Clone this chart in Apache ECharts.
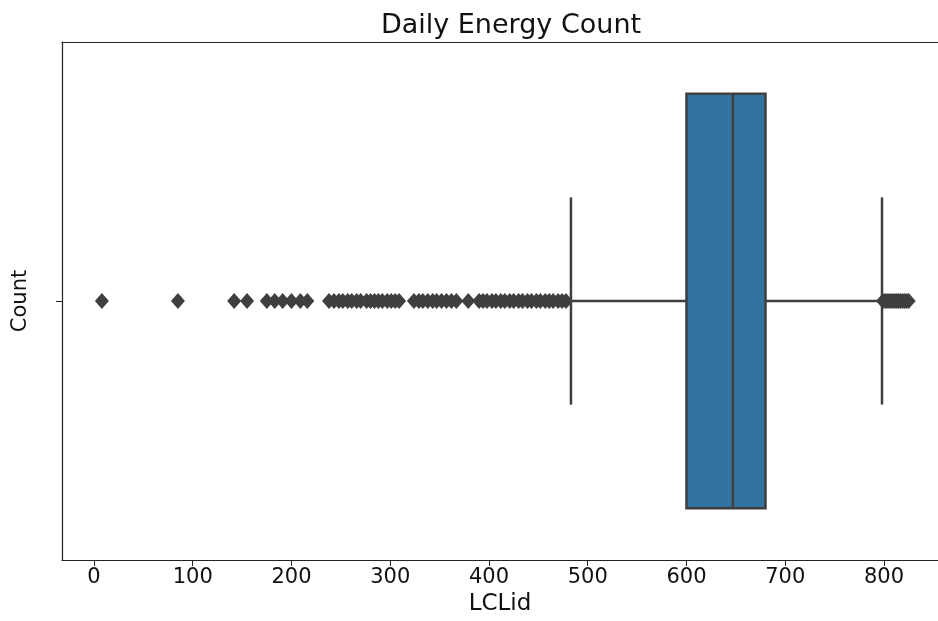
<!DOCTYPE html>
<html>
<head>
<meta charset="utf-8">
<title>Daily Energy Count</title>
<script src="https://cdn.jsdelivr.net/npm/echarts@6/dist/echarts.min.js"></script>
<style>
  html, body { margin: 0; padding: 0; background: #fff; }
  #chart { width: 938px; height: 621px; }
</style>
</head>
<body>
<div id="chart"></div>
<script>
// one horizontal box, seaborn-style
const categories = [''];
// [lower whisker, Q1, median, Q3, upper whisker]
const boxStats = [483, 600, 647, 680, 798];
const lowOutliers = [
  8, 85, 142, 155, 175, 183, 191, 200, 209, 216,
  238, 243, 248, 252, 257, 261, 266, 270, 276, 280, 284, 288, 292, 297, 301, 305, 309,
  324, 329, 333, 338, 343, 347, 352, 357, 362, 367,
  379,
  390, 394, 398, 403, 407, 412, 416, 421, 425, 430, 434, 439, 443, 448, 452, 457, 461, 465, 470, 474, 478
];
const highOutliers = [799, 801, 803, 805, 807, 809, 811, 813, 815, 817, 819, 821, 823, 825];
const xTicks = [0, 100, 200, 300, 400, 500, 600, 700, 800];

const BOX_FILL = '#3274a1';
const LINE = '#3f3f3f';
const AXIS = '#222';
const FONT = 'DejaVu Sans';
// the original figure is cut off on the right, so the axis just runs to the edge
const X_MIN = -32.4;
const X_MAX = 854.7;

const chart = echarts.init(document.getElementById('chart'));

// draw box + whiskers through the axis scales
function renderBox(params, api) {
  const yc = api.coord([0, api.value(0)])[1];
  const band = api.size([0, 1])[1];
  const half = band * 0.4;
  const capHalf = half / 2;
  const x = i => api.coord([api.value(i), api.value(0)])[0];
  const lo = x(1), q1 = x(2), med = x(3), q3 = x(4), hi = x(5);
  const lineStyle = { stroke: LINE, lineWidth: 2.5, fill: null };
  return {
    type: 'group',
    children: [
      { type: 'line', shape: { x1: lo, y1: yc, x2: q1, y2: yc }, style: lineStyle },
      { type: 'line', shape: { x1: q3, y1: yc, x2: hi, y2: yc }, style: lineStyle },
      { type: 'line', shape: { x1: lo, y1: yc - capHalf, x2: lo, y2: yc + capHalf }, style: lineStyle },
      { type: 'line', shape: { x1: hi, y1: yc - capHalf, x2: hi, y2: yc + capHalf }, style: lineStyle },
      { type: 'rect', shape: { x: q1, y: yc - half, width: q3 - q1, height: half * 2 },
        style: { fill: BOX_FILL, stroke: LINE, lineWidth: 2.5 } },
      { type: 'line', shape: { x1: med, y1: yc - half, x2: med, y2: yc + half }, style: lineStyle }
    ]
  };
}

const option = {
  animation: false,
  backgroundColor: '#fff',
  title: {
    text: 'Daily Energy Count',
    left: 506,
    textAlign: 'center',
    top: 7,
    textStyle: { fontFamily: FONT, fontSize: 27, fontWeight: 'normal', color: '#111' }
  },
  grid: { left: 62, right: 0, top: 42, bottom: 58, show: false },
  xAxis: [
    {
      type: 'value',
      min: X_MIN,
      max: X_MAX,
      name: 'LCLid',
      nameLocation: 'middle',
      nameGap: 33,
      nameTextStyle: { fontFamily: FONT, fontSize: 23, color: '#111' },
      splitLine: { show: false },
      axisLine: { show: true, onZero: false, lineStyle: { color: AXIS, width: 1.2 } },
      axisTick: { show: true, length: 6, lineStyle: { color: AXIS }, customValues: xTicks },
      axisLabel: { fontFamily: FONT, fontSize: 21, color: '#111', margin: 7, customValues: xTicks }
    },
    {
      // top frame line only
      type: 'value',
      position: 'top',
      min: X_MIN,
      max: X_MAX,
      splitLine: { show: false },
      axisLine: { show: true, onZero: false, lineStyle: { color: AXIS, width: 1.2 } },
      axisTick: { show: false },
      axisLabel: { show: false }
    }
  ],
  yAxis: {
    type: 'category',
    data: categories,
    name: 'Count',
    nameLocation: 'middle',
    nameRotate: 90,
    nameGap: 31,
    nameTextStyle: { fontFamily: FONT, fontSize: 21, color: '#111' },
    axisLine: { show: true, onZero: false, lineStyle: { color: AXIS, width: 1.2 } },
    axisTick: { show: true, alignWithLabel: true, length: 6, lineStyle: { color: AXIS } },
    axisLabel: { show: false }
  },
  series: [
    {
      type: 'custom',
      renderItem: renderBox,
      dimensions: ['cat', 'low', 'q1', 'median', 'q3', 'high'],
      encode: { x: [1, 2, 3, 4, 5], y: 0 },
      data: [[0].concat(boxStats)],
      z: 2
    },
    {
      type: 'scatter',
      symbol: 'diamond',
      symbolSize: [14, 16],
      itemStyle: { color: LINE, opacity: 1 },
      data: lowOutliers.concat(highOutliers).map(v => [v, 0]),
      z: 3
    }
  ]
};

chart.setOption(option);
</script>
</body>
</html>
